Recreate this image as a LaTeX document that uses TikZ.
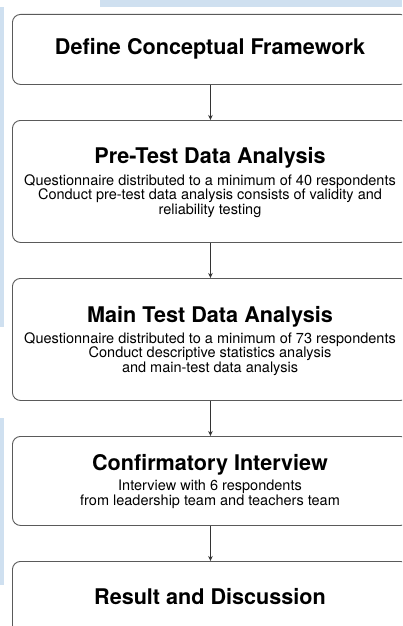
\documentclass[tikz,border=0pt]{standalone}
\usepackage{fontspec}
\setmainfont{TeX Gyre Heros}
\usetikzlibrary{arrows.meta}
\definecolor{bgblue}{HTML}{CFE0F0}
\definecolor{boxline}{HTML}{5A5A5A}
\begin{document}
\begin{tikzpicture}[x=1pt,y=-1pt,
  stepbox/.style={draw=boxline,line width=0.9pt,rounded corners=8pt,minimum width=396pt,anchor=north west,inner sep=0pt},
  ttl/.style={font=\fontsize{21.6}{24}\selectfont\bfseries,inner sep=0pt},
  subtxt/.style={font=\fontsize{14.5}{14.5}\selectfont,align=center,inner sep=0pt},
  conn/.style={draw=black!80,line width=0.9pt,-{Stealth[length=5pt,width=4.5pt]}}]
\useasboundingbox (0,0) rectangle (402,626);
\clip (0,0) rectangle (402,626);
\fill[white] (0,0) rectangle (402,626);
\fill[bgblue] (100,0) rectangle (402,7);
\fill[bgblue] (0,7) rectangle (3.5,327);
\fill[bgblue] (0,418) rectangle (4,585);
\node[stepbox,minimum height=70pt] (b1) at (12,14) {};
\node[stepbox,minimum height=122pt] (b2) at (12,120) {};
\node[stepbox,minimum height=122pt] (b3) at (12,278) {};
\node[stepbox,minimum height=89pt] (b4) at (12,436) {};
\node[stepbox,minimum height=72pt] (b5) at (12,561) {};
\node[ttl] (t1) at (210,49) {Define Conceptual Framework};
\node[ttl] (t2) at (210,158) {Pre-Test Data Analysis};
\node[subtxt] (s2) at (210,196) {Questionnaire distributed to a minimum of 40 respondents\\Conduct pre-test data analysis consists of validity and\\reliability testing};
\node[ttl] (t3) at (210,317) {Main Test Data Analysis};
\node[subtxt] (s3) at (210,354) {Questionnaire distributed to a minimum of 73 respondents\\Conduct descriptive statistics analysis\\and main-test data analysis};
\node[ttl] (t4) at (210,465) {Confirmatory Interview};
\node[subtxt] (s4) at (210,494.5) {Interview with 6 respondents\\from leadership team and teachers team};
\node[ttl] (t5) at (210,597) {Result and Discussion};
\draw[conn] (b1.south) -- (b2.north);
\draw[conn] (b2.south) -- (b3.north);
\draw[conn] (b3.south) -- (b4.north);
\draw[conn] (b4.south) -- (b5.north);
\end{tikzpicture}
\end{document}
